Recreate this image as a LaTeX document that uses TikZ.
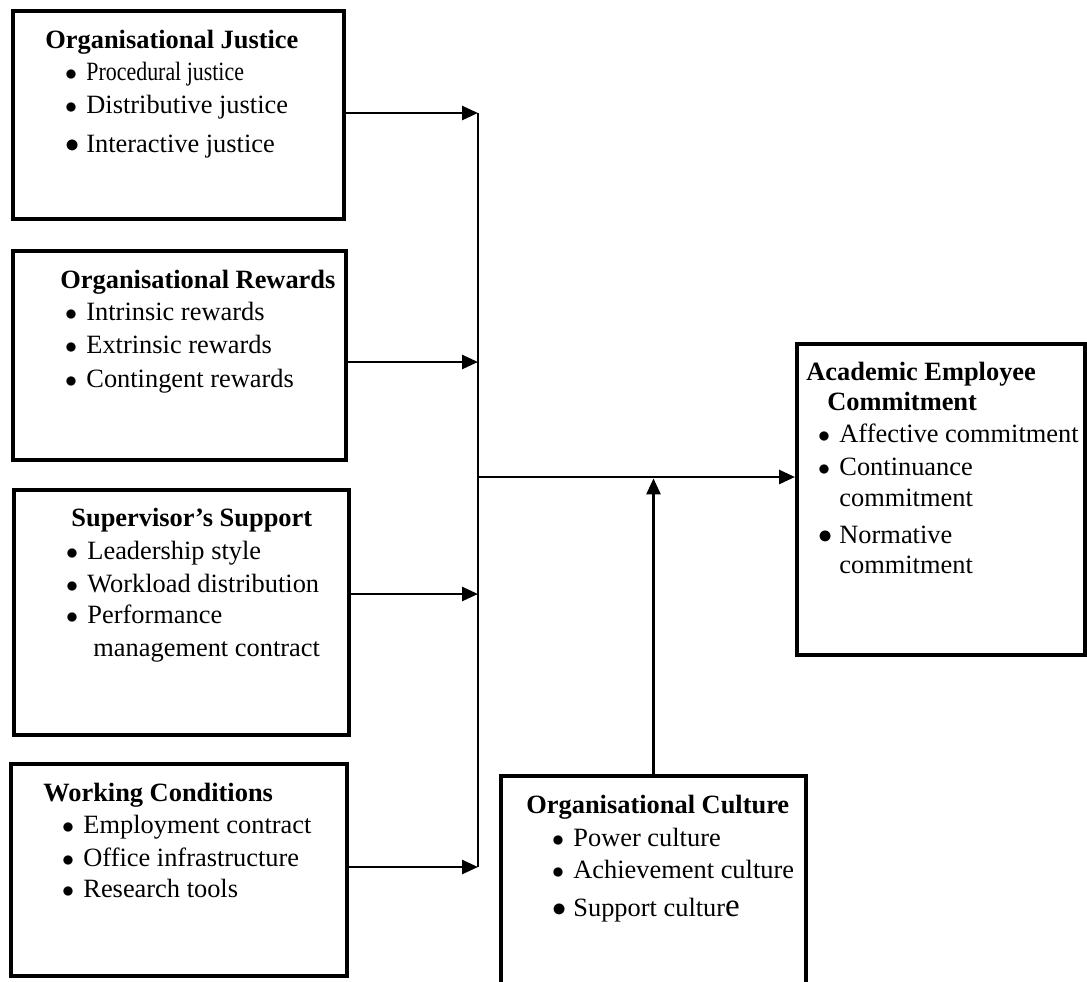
\documentclass[tikz,border=0pt]{standalone}
\usepackage{fontspec}
\setmainfont{Liberation Serif}
\usetikzlibrary{arrows.meta,fit}
\newcommand\itm{\llap{$\bullet$\hspace{0.35em}}}
\newcommand\bigitm{\llap{\scalebox{1.18}{$\bullet$}\hspace{0.25em}}}
\begin{document}
\begin{tikzpicture}[x=0.5pt,y=-0.5pt,
    box/.style={draw,line width=2pt,inner sep=0pt},
    txt/.style={anchor=base west,inner sep=0pt,font=\fontsize{13.2}{16}\selectfont},
    head/.style={txt,font=\fontsize{13.2}{16}\selectfont\bfseries},
    conn/.style={line width=1.3pt},
    arr/.style={conn,-{Triangle[length=8pt,width=7pt]}}]
      \path[use as bounding box,fill=white] (0,0) rectangle (1087,981);

      \node[box,fit={(13,11) (344,219)}] (justice) {};
        \node[head] (justiceT) at (45,48) {Organisational Justice};
        \node[txt] (justice1) at (86,80) {\itm\scalebox{0.83}[1]{Procedural justice}};
        \node[txt] (justice2) at (86,113) {\itm Distributive justice};
        \node[txt] (justice3) at (86,152) {\bigitm Interactive justice};

      \node[box,fit={(13,251) (346,460)}] (rewards) {};
        \node[head] (rewardsT) at (60,288) {Organisational Rewards};
        \node[txt] (rewards1) at (86,320) {\itm Intrinsic rewards};
        \node[txt] (rewards2) at (86,353) {\itm Extrinsic rewards};
        \node[txt] (rewards3) at (86,387) {\itm Contingent rewards};

      \node[box,fit={(14,490) (349,735)}] (support) {};
        \node[head] (supportT) at (71,526) {Supervisor’s Support};
        \node[txt] (support1) at (87,559) {\itm Leadership style};
        \node[txt] (support2) at (87,592) {\itm Workload distribution};
        \node[txt] (support3) at (87,623) {\itm Performance};
        \node[txt] (support4) at (93,656) {management contract};

      \node[box,fit={(11,764) (347,976)}] (working) {};
        \node[head] (workingT) at (43,801) {Working Conditions};
        \node[txt] (working1) at (83,833) {\itm Employment contract};
        \node[txt] (working2) at (83,866) {\itm Office infrastructure};
        \node[txt] (working3) at (83,897) {\itm Research tools};

      \node[box,fit={(501,776) (806,1000)}] (culture) {};
        \node[head] (cultureT) at (526,813) {Organisational Culture};
        \node[txt] (culture1) at (573,846) {\itm Power culture};
        \node[txt] (culture2) at (573,878) {\itm Achievement culture};
        \node[txt] (culture3) at (573,916) {\bigitm Support cultur\scalebox{1.25}{e}};

      \node[box,fit={(797,344) (1085,655)}] (commit) {};
        \node[head] (commitT) at (806,380) {Academic Employee};
        \node[head] (commitT2) at (827,410) {Commitment};
        \node[txt] (commit1) at (839,442) {\itm Affective commitment};
        \node[txt] (commit2) at (839,475) {\itm Continuance};
        \node[txt] (commit3) at (839,506) {commitment};
        \node[txt] (commit4) at (839,543) {\bigitm Normative};
        \node[txt] (commit5) at (839,573) {commitment};

      \coordinate (bus1) at (478,113);
      \coordinate (bus2) at (478,362);
      \coordinate (bus3) at (478,594);
      \coordinate (bus4) at (478,867);
      \coordinate (hub) at (478,477);

      \draw[conn] (bus1) -- (bus4);
      \draw[arr] (justice.east |- bus1) -- (bus1);
      \draw[arr] (rewards.east |- bus2) -- (bus2);
      \draw[arr] (support.east |- bus3) -- (bus3);
      \draw[arr] (working.east |- bus4) -- (bus4);
      \draw[arr] (hub) -- (commit.west |- hub);
      \draw[arr] (culture.north) -- ([yshift=-0.7pt]culture.north |- hub);
    \end{tikzpicture}
\end{document}
